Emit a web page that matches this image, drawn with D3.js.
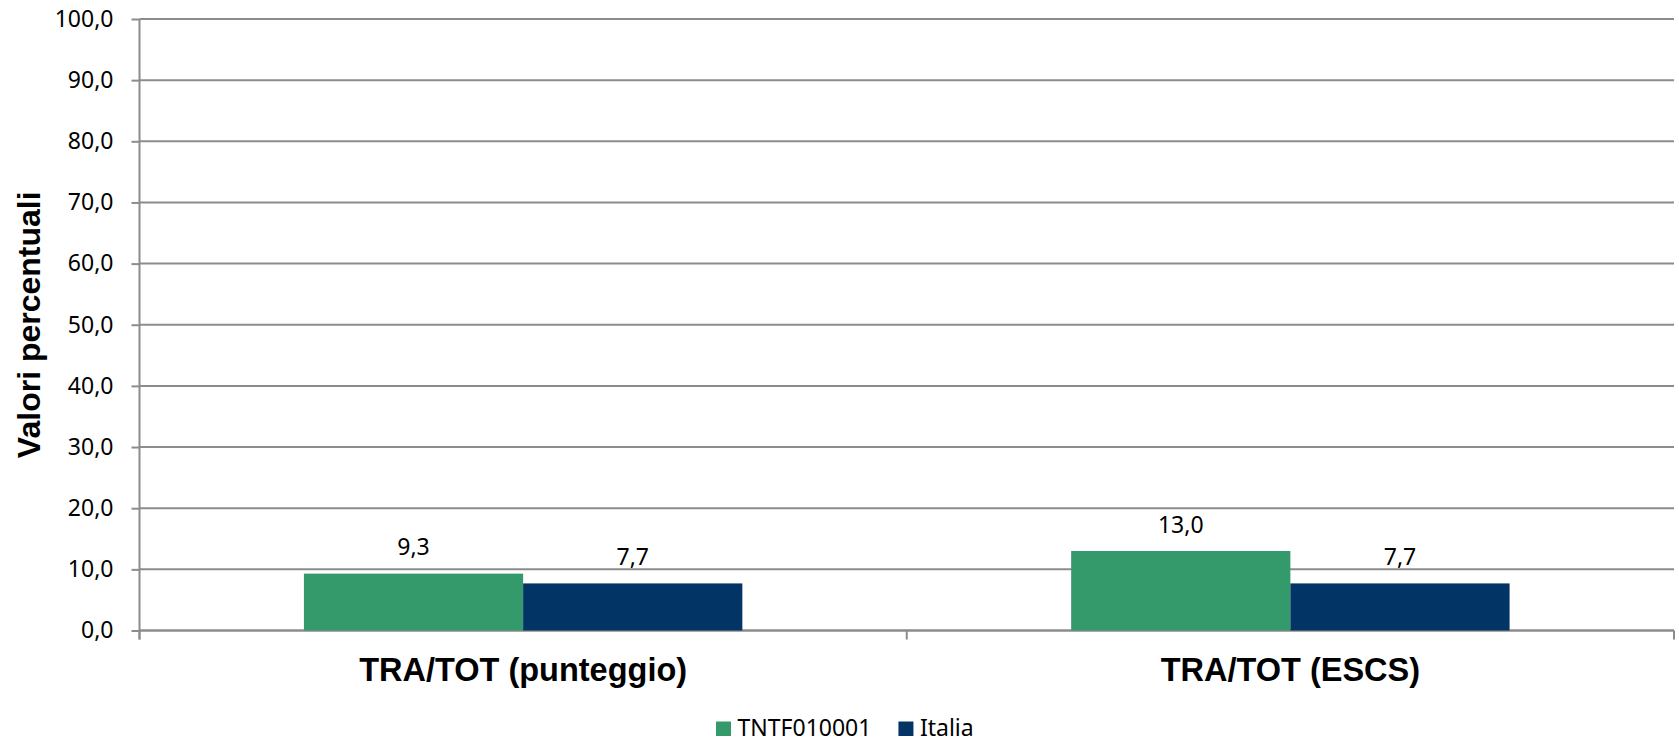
<!DOCTYPE html>
<meta charset="utf-8">
<style>
body { margin: 0; background: #fff; }
svg { display: block; }
.grid line { stroke: #8c8c8c; stroke-width: 2; }
.axis path, .axis line { stroke: #8c8c8c; stroke-width: 2; }
.axis text { font-family: "Noto Sans", sans-serif; font-size: 23px; fill: #000; }
.cat-label { font-family: "Liberation Sans", Arial, sans-serif; font-weight: bold; font-size: 32.5px; fill: #000; }
.val-label { font-family: "Noto Sans", sans-serif; font-size: 23px; fill: #000; }
.legend text { font-family: "Noto Sans", sans-serif; font-size: 23px; fill: #000; }
</style>
<svg width="1679" height="742"></svg>
<script src="https://cdn.jsdelivr.net/npm/d3@7"></script>
<script>

var categories = ["TRA/TOT (punteggio)", "TRA/TOT (ESCS)"];
var seriesNames = ["TNTF010001", "Italia"];
var seriesColors = ["#359a6b", "#023466"];
var values = [
    [9.3, 13.0],   // TNTF010001
    [7.7, 7.7]     // Italia
];
var yTicks = [0, 10, 20, 30, 40, 50, 60, 70, 80, 90, 100];

var svg = d3.select("svg"),
    width = +svg.attr("width"),
    height = +svg.attr("height");

var margin = {top: 19, right: 5, bottom: 111.5, left: 139.5};
var plotW = width - margin.left - margin.right,
    plotH = height - margin.top - margin.bottom;

var fmt = function(v) { return v.toFixed(1).replace(".", ","); };

var x0 = d3.scaleBand().domain(categories).range([0, plotW]).paddingInner(0).paddingOuter(0);
var x1 = d3.scaleBand().domain(seriesNames).range([0, x0.bandwidth()]).paddingInner(0).paddingOuter(0.75);
var y = d3.scaleLinear().domain([0, 100]).range([plotH, 0]);

var g = svg.append("g").attr("transform", "translate(" + margin.left + "," + margin.top + ")");

// gridlines
g.append("g").attr("class", "grid")
  .selectAll("line").data(yTicks).enter().append("line")
    .attr("x1", 0).attr("x2", plotW)
    .attr("y1", function(d) { return y(d); })
    .attr("y2", function(d) { return y(d); });

// y axis
var yAxis = g.append("g").attr("class", "axis")
    .call(d3.axisLeft(y).tickValues(yTicks).tickFormat(fmt).tickSize(8).tickPadding(18));
yAxis.select(".domain").attr("d", "M0," + (plotH + 9) + "V0");

// x axis (ticks at category boundaries)
var xAxis = g.append("g").attr("class", "axis")
    .attr("transform", "translate(0," + plotH + ")");
xAxis.append("line").attr("x1", 0).attr("x2", plotW).attr("y1", 0).attr("y2", 0);
xAxis.selectAll(".xtick").data(d3.range(categories.length + 1)).enter().append("line")
    .attr("class", "xtick")
    .attr("x1", function(i) { return i * x0.bandwidth(); })
    .attr("x2", function(i) { return i * x0.bandwidth(); })
    .attr("y1", 0).attr("y2", 9);

// bars
var rows = [];
categories.forEach(function(c, ci) {
    seriesNames.forEach(function(s, si) {
        rows.push({cat: c, series: s, si: si, value: values[si][ci]});
    });
});

g.selectAll("rect.bar").data(rows).enter().append("rect")
    .attr("class", "bar")
    .attr("x", function(d) { return x0(d.cat) + x1(d.series); })
    .attr("width", x1.bandwidth())
    .attr("y", function(d) { return y(d.value); })
    .attr("height", function(d) { return plotH - y(d.value); })
    .attr("fill", function(d) { return seriesColors[d.si]; });

g.selectAll("text.val-label").data(rows).enter().append("text")
    .attr("class", "val-label")
    .attr("text-anchor", "middle")
    .attr("x", function(d) { return x0(d.cat) + x1(d.series) + x1.bandwidth() / 2; })
    .attr("y", function(d) { return y(d.value) - 18.5; })
    .text(function(d) { return fmt(d.value); });

// category labels
g.selectAll("text.cat-label").data(categories).enter().append("text")
    .attr("class", "cat-label")
    .attr("text-anchor", "middle")
    .attr("x", function(d) { return x0(d) + x0.bandwidth() / 2; })
    .attr("y", plotH + 50.5)
    .text(function(d) { return d; });

// y title
svg.append("text")
    .attr("class", "cat-label")
    .attr("text-anchor", "middle")
    .attr("transform", "translate(40," + (margin.top + plotH / 2) + ") rotate(-90)")
    .style("font-size", "32px")
    .text("Valori percentuali");

// legend
var legend = svg.append("g").attr("class", "legend");
var lx = 716;
seriesNames.forEach(function(s, i) {
    var item = legend.append("g").attr("transform", "translate(" + lx + ",0)");
    item.append("rect").attr("x", 0).attr("y", 721.5).attr("width", 15).attr("height", 14.5)
        .attr("fill", seriesColors[i]);
    var t = item.append("text").attr("x", 21.5).attr("y", 735.5).text(s);
    lx += 21.5 + t.node().getComputedTextLength() + 27;
});

</script>
